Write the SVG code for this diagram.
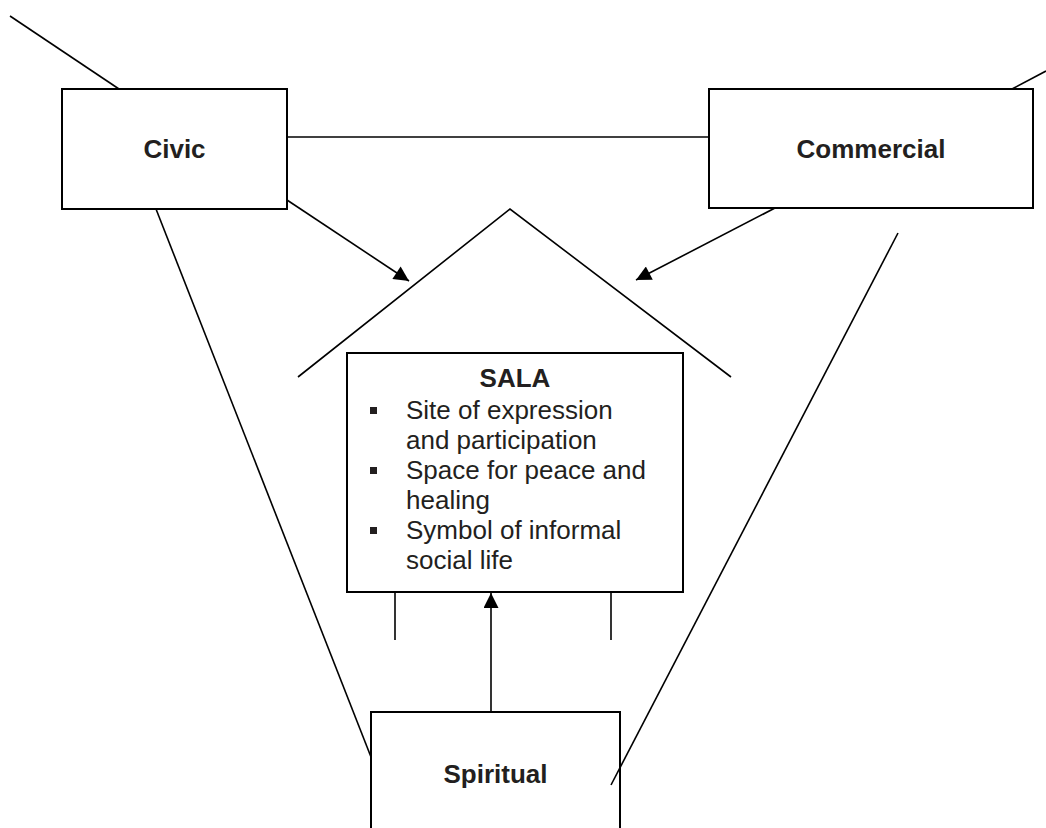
<svg xmlns="http://www.w3.org/2000/svg" width="1046" height="828" viewBox="0 0 1046 828">
<style>
.box{fill:#fff;stroke:#000;stroke-width:2}
.ln{fill:none;stroke:#000;stroke-width:1.6}
.lbl{font-family:"Liberation Sans",Arial,sans-serif;font-size:26px;font-weight:bold;fill:#231f20;text-anchor:middle}
.txt{font-family:"Liberation Sans",Arial,sans-serif;font-size:26px;fill:#231f20}
.bul{fill:#231f20}
</style>
<defs>
<marker id="arr" viewBox="0 0 10 10" refX="10" refY="5" markerWidth="17" markerHeight="15" markerUnits="userSpaceOnUse" orient="auto">
<path d="M0,0 L10,5 L0,10 z" fill="#000"/>
</marker>
</defs>
<g id="civic">
<rect class="box" x="62" y="89" width="225" height="120"/>
<text class="lbl" x="174.5" y="158">Civic</text>
</g>
<g id="commercial">
<rect class="box" x="709" y="89" width="324" height="119"/>
<text class="lbl" x="871" y="158">Commercial</text>
</g>
<g id="sala">
<rect class="box" x="347" y="353" width="336" height="239"/>
<text class="lbl" x="515" y="387">SALA</text>
<rect class="bul" x="370" y="407" width="7" height="7"/>
<rect class="bul" x="370" y="467" width="7" height="7"/>
<rect class="bul" x="370" y="527" width="7" height="7"/>
<text class="txt" x="406" y="419">Site of expression</text>
<text class="txt" x="406" y="449">and participation</text>
<text class="txt" x="406" y="479">Space for peace and</text>
<text class="txt" x="406" y="509">healing</text>
<text class="txt" x="406" y="539">Symbol of informal</text>
<text class="txt" x="406" y="569">social life</text>
</g>
<g id="spiritual">
<path class="box" d="M371,828 L371,712 L620,712 L620,828"/>
<text class="lbl" x="495.5" y="783">Spiritual</text>
</g>
<g id="connectors">
<line class="ln" x1="10" y1="16" x2="119" y2="89"/>
<line class="ln" x1="1012" y1="89" x2="1046" y2="71"/>
<line class="ln" x1="287" y1="137" x2="709" y2="137"/>
<line class="ln" x1="287" y1="200" x2="409" y2="281" marker-end="url(#arr)"/>
<line class="ln" x1="775" y1="208" x2="636" y2="280" marker-end="url(#arr)"/>
<line class="ln" x1="156" y1="209" x2="371" y2="757"/>
<line class="ln" x1="898" y1="233" x2="611" y2="785"/>
<line class="ln" x1="491" y1="712" x2="491" y2="593" marker-end="url(#arr)"/>
<polyline class="ln" points="298,377 510,209 731,377"/>
<line class="ln" x1="395" y1="592" x2="395" y2="640"/>
<line class="ln" x1="611" y1="592" x2="611" y2="640"/>
</g>
</svg>
